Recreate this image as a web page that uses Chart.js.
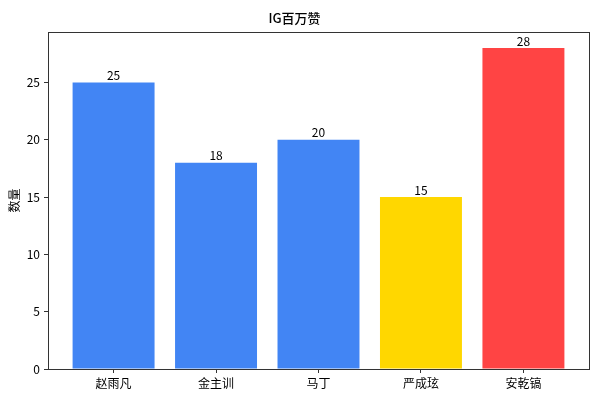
<!DOCTYPE html>
<html>
<head>
<meta charset="utf-8">
<script src="https://cdn.jsdelivr.net/npm/chart.js@4"></script>
<style>
  html, body { margin: 0; padding: 0; background: #fff; }
  #wrap { width: 600px; height: 400px; }
</style>
</head>
<body>
<div id="wrap"><canvas id="igChart" width="600" height="400"></canvas></div>
<script>
const members = ['赵雨凡', '金主训', '马丁', '严成玹', '安乾镐'];
const likeCounts = [25, 18, 20, 15, 28];
const barColors = ['#4285F4', '#4285F4', '#4285F4', '#FFD700', '#FF4444'];
const yTicks = [0, 5, 10, 15, 20, 25];

const FONT = "'Noto Sans CJK SC', 'Noto Sans', sans-serif";
const AXIS_COLOR = '#333333';

// frame around the plot area (matplotlib style spines)
const frameBox = {
    id: 'frameBox',
    afterDraw(chart) {
        const { ctx, chartArea: a } = chart;
        ctx.save();
        ctx.strokeStyle = AXIS_COLOR;
        ctx.lineWidth = 1;
        ctx.strokeRect(a.left + 0.5, a.top + 0.5, a.right - a.left, a.bottom - a.top);
        ctx.restore();
    }
};

// value on top of each bar
const barValues = {
    id: 'barValues',
    afterDatasetsDraw(chart) {
        const ctx = chart.ctx;
        const meta = chart.getDatasetMeta(0);
        ctx.save();
        ctx.fillStyle = '#000';
        ctx.font = '12px ' + FONT;
        ctx.textAlign = 'center';
        ctx.textBaseline = 'bottom';
        meta.data.forEach((bar, i) => {
            ctx.fillText(String(likeCounts[i]), bar.x, bar.y - 1);
        });
        ctx.restore();
    }
};

const ctx = document.getElementById('igChart').getContext('2d');
new Chart(ctx, {
    type: 'bar',
    data: {
        datasets: [{
            data: members.map((name, i) => ({ x: i, y: likeCounts[i] })),
            backgroundColor: barColors,
            borderWidth: 0,
            categoryPercentage: 1,
            barPercentage: 0.8
        }]
    },
    options: {
        responsive: false,
        animation: false,
        layout: { padding: { left: 0, right: 11, top: 0, bottom: 0 } },
        plugins: {
            legend: { display: false },
            tooltip: { enabled: false },
            title: {
                display: true,
                text: 'IG百万赞',
                color: '#000',
                font: { family: FONT, size: 13, weight: '500', lineHeight: 1.2 },
                padding: { top: 10, bottom: 6.4 }
            }
        },
        scales: {
            x: {
                type: 'linear',
                offset: false,
                min: -0.64,
                max: 4.64,
                afterBuildTicks: axis => { axis.ticks = members.map((m, i) => ({ value: i })); },
                afterFit: scale => { scale.height = 31; },
                border: { display: false },
                grid: { offset: false, drawOnChartArea: false, drawTicks: true, tickLength: 4, color: AXIS_COLOR },
                ticks: {
                    padding: 3,
                    color: '#000',
                    font: { family: FONT, size: 12 },
                    callback: v => members[v]
                }
            },
            y: {
                min: 0,
                max: 29.4,
                afterBuildTicks: axis => { axis.ticks = yTicks.map(v => ({ value: v })); },
                afterFit: scale => { scale.width = 48; },
                border: { display: false },
                grid: { drawOnChartArea: false, drawTicks: true, tickLength: 4, color: AXIS_COLOR },
                ticks: {
                    padding: 4,
                    color: '#000',
                    font: { family: FONT, size: 12 }
                },
                title: {
                    display: true,
                    text: '数量',
                    color: '#000',
                    font: { family: FONT, size: 12 },
                    padding: { top: 7, bottom: 0 }
                }
            }
        }
    },
    plugins: [frameBox, barValues]
});
</script>
</body>
</html>
